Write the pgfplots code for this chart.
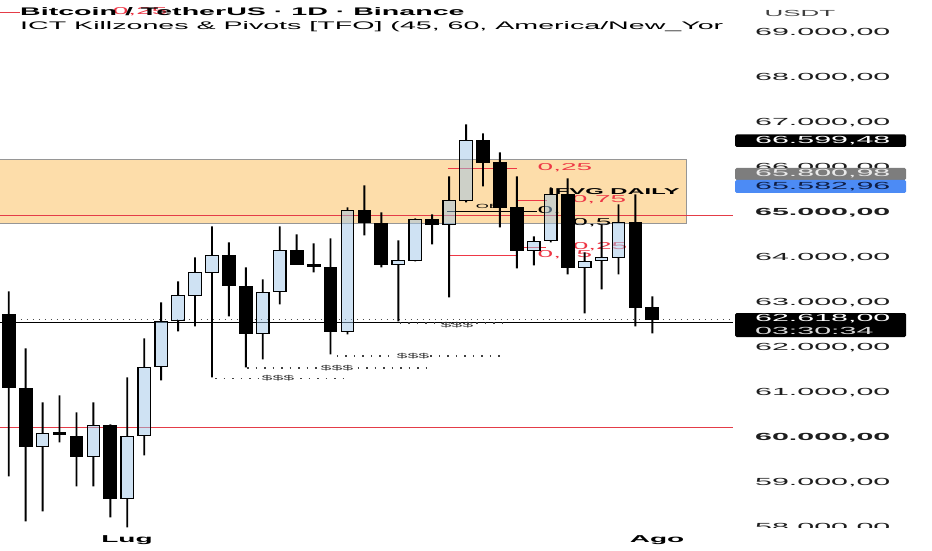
\documentclass[border=0pt]{standalone}
\usepackage{pgfplots}
\pgfplotsset{compat=1.18}
\usepackage{pgfplotstable}
\usepackage{fontspec}
\setmainfont{Liberation Sans}
\newfontfamily\tvt[FakeStretch=2.6]{Liberation Sans}
\newfontfamily\tv[FakeStretch=2.8]{Liberation Sans}
\newfontfamily\tvp[FakeStretch=2.95]{Liberation Sans}

\definecolor{zone}{RGB}{253,221,170}
\definecolor{zoneedge}{RGB}{150,150,150}
\definecolor{bull}{RGB}{159,197,231}
\definecolor{pivred}{RGB}{228,60,72}
\definecolor{fibred}{RGB}{238,55,70}
\definecolor{ticktxt}{RGB}{30,30,30}
\definecolor{boxgray}{RGB}{125,125,125}
\definecolor{boxblue}{RGB}{76,139,245}

\pgfplotstableread{
x O H L C
1 62733 63245 59134 61111
2 61089 61978 58134 59800
3 59800 60778 58356 60089
4 60100 60934 59889 60060
5 60022 60556 58911 59578
6 59578 60778 58911 60267
7 60267 60290 58222 58644
8 58644 61333 58000 60022
9 60044 62200 59600 61556
10 61578 63000 61267 62578
11 62600 63467 62356 63156
12 63156 64000 62467 63667
13 63667 64689 61333 64044
14 64044 64333 62689 63378
15 63356 63778 61556 62311
16 62311 63511 61733 63222
17 63244 64689 62956 64156
18 64156 64511 63830 63844
19 63830 64311 63667 63790
20 63778 64422 61844 62356
21 62356 65111 62289 65044
22 65044 65600 64489 64778
23 64756 65000 63778 63844
24 63844 64378 62578 63933
25 63933 64867 63911 64844
26 64844 64956 64289 64733
27 64733 65800 63111 65267
28 65267 66956 65222 66599
29 66599 66756 65578 66111
30 66111 66333 64667 65111
31 65111 65800 63756 64156
32 64156 64467 63822 64356
33 64378 65556 64333 65400
34 65400 65756 63622 63778
35 63778 64111 62756 63911
36 63933 64733 63289 63990
37 64000 65178 63622 64778
38 64778 65400 62467 62889
39 62889 63133 62311 62618
}\candles

\begin{document}
\begin{tikzpicture}[x=1pt,y=1pt]
\useasboundingbox (0,0) rectangle (932,550);
\pgfplotsset{chart/.style={at={(0,0)}, anchor=south west, scale only axis,
  width=733pt, height=550pt, xmin=0.486, xmax=43.76, ymin=57496, ymax=69718, clip=false}}
\begin{axis}[chart, axis line style={draw=none}, xtick=\empty,
  ytick={58000,59000,60000,61000,62000,63000,64000,65000,66000,67000,68000,69000},
  yticklabels={{58.000,00},{59.000,00},{\bfseries 60.000,00},{61.000,00},{62.000,00},{63.000,00},{64.000,00},{\bfseries 65.000,00},{66.000,00},{67.000,00},{68.000,00},{69.000,00}},
  yticklabel pos=right, major tick length=0pt, scaled y ticks=false,
  yticklabel style={anchor=west, inner sep=0pt, xshift=22pt, font=\tvp\fontsize{10.3}{12}\selectfont, text=ticktxt}]
% zone
\addplot[fill=zone, draw=zoneedge, line width=0.8pt] coordinates {(-0.5,64762) (40.98,64762) (40.98,66184) (-0.5,66184)} -- cycle;
% pivot lines
\addplot[pivred, line width=1pt] coordinates {(0.3,64920) (43.76,64920)};
\addplot[pivred, line width=1pt] coordinates {(0.3,60210) (43.76,60210)};
\addplot[pivred, line width=1pt] coordinates {(0.3,69451) (1.67,69451)};
\node[text=fibred] at (axis cs:8.76,69451) {\tv\fontsize{10}{12}\selectfont 0,25};
% price lines
\addplot[black, line width=1pt] coordinates {(0.3,62562) (43.76,62562)};
\addplot[black!70, line width=1.2pt, dash pattern=on 1.6pt off 4.4pt] coordinates {(0.3,62618) (43.76,62618)};
% liquidity lines
\addplot[black!75, line width=1.2pt, dash pattern=on 1.5pt off 7pt] coordinates {(13.18,61310) (20.73,61310)};
\addplot[black!75, line width=1.2pt, dash pattern=on 1.5pt off 7pt] coordinates {(15.07,61540) (25.87,61540)};
\addplot[black!75, line width=1.2pt, dash pattern=on 1.5pt off 7pt] coordinates {(20.38,61807) (30.0,61807)};
\addplot[black!75, line width=1.2pt, dash pattern=on 1.5pt off 7pt] coordinates {(24.1,62541) (30.6,62541)};
\node[fill=white, inner sep=1pt, text=black!80] at (axis cs:16.9,61310) {\tv\fontsize{7}{8}\selectfont \$\$\$};
\node[fill=white, inner sep=1pt, text=black!80] at (axis cs:20.38,61540) {\tv\fontsize{7}{8}\selectfont \$\$\$};
\node[fill=white, inner sep=1pt, text=black!80] at (axis cs:24.87,61807) {\tv\fontsize{7}{8}\selectfont \$\$\$};
\node[inner sep=1pt, text=black!80] at (axis cs:27.46,62500) {\tv\fontsize{7}{8}\selectfont \$\$\$};
% fib levels
\addplot[fibred, line width=1pt] coordinates {(26.93,65984) (31.0,65984)};
\addplot[fibred, line width=1pt] coordinates {(31.0,65273) (32.78,65273)};
\addplot[black, line width=1pt] coordinates {(26.87,65029) (32.19,65029)};
\addplot[fibred, line width=1pt] coordinates {(31.18,64229) (32.72,64229)};
\addplot[fibred, line width=1pt] coordinates {(27.05,64051) (31.0,64051)};
\node[text=fibred] at (axis cs:33.84,65984) {\tv\fontsize{10}{12}\selectfont 0,25};
\node[text=fibred] at (axis cs:35.85,65273) {\tv\fontsize{10}{12}\selectfont 0,75};
\node[text=black] at (axis cs:33.37,65029) {\tv\fontsize{10}{12}\selectfont 0,5};
\node[text=black] at (axis cs:35.43,64762) {\tv\fontsize{10}{12}\selectfont 0,5};
\node[text=fibred] at (axis cs:35.91,64229) {\tv\fontsize{10}{12}\selectfont 0,25};
\node[text=fibred] at (axis cs:33.84,64051) {\tv\fontsize{10}{12}\selectfont 0,75};
\node[anchor=west, inner sep=0pt] at (axis cs:32.84,65451) {\tv\bfseries\fontsize{8.5}{10}\selectfont IFVG DAILY};
\node[inner sep=0pt] at (axis cs:29.29,65140) {\tv\fontsize{6}{7}\selectfont OB};
\end{axis}

% wicks: low -> body (black), body span (empty), body -> high (black)
\begin{axis}[chart, hide axis, ybar stacked, bar width=1.9pt]
\addplot[draw=none, fill=none] table[x=x, y=L] {\candles};
\addplot[draw=none, fill=black] table[x=x, y expr={min(\thisrow{O},\thisrow{C})-\thisrow{L}}] {\candles};
\addplot[draw=none, fill=none] table[x=x, y expr={abs(\thisrow{C}-\thisrow{O})}] {\candles};
\addplot[draw=none, fill=black] table[x=x, y expr={\thisrow{H}-max(\thisrow{O},\thisrow{C})}] {\candles};
\end{axis}

% bodies
\begin{axis}[chart, hide axis, ybar stacked, bar width=12.5pt]
\addplot[draw=none, fill=none] table[x=x, y expr={min(\thisrow{O},\thisrow{C})}] {\candles};
\addplot[fill=bull, fill opacity=0.5, draw=black, line width=1.3pt] table[x=x, y expr={max(\thisrow{C}-\thisrow{O},0)}] {\candles};
\addplot[fill=black, draw=black, line width=1.3pt] table[x=x, y expr={max(\thisrow{O}-\thisrow{C},0)}] {\candles};
\end{axis}

% price scale boxes
\fill[black, rounded corners=1.5pt] (735,403) rectangle (906,415.5);
\node[anchor=west, inner sep=0pt, text=white] at (755,409) {\tvp\fontsize{10.3}{12}\selectfont 66.599,48};
\fill[boxgray, rounded corners=1.5pt] (735,370) rectangle (906,382);
\node[anchor=west, inner sep=0pt, text=white!92!black] at (755,376) {\tvp\fontsize{10.3}{12}\selectfont 65.800,98};
\fill[boxblue, rounded corners=1.5pt] (735,357) rectangle (906,370);
\node[anchor=west, inner sep=0pt, text={rgb,255:red,15;green,30;blue,70}] at (755,363.5) {\tvp\fontsize{10.3}{12}\selectfont 65.582,96};
\fill[black, rounded corners=1.5pt] (735,213) rectangle (906,237);
\node[anchor=west, inner sep=0pt, text=white] at (755,231) {\tvp\fontsize{10.3}{12}\selectfont 62.618,00};
\node[anchor=west, inner sep=0pt, text=white!85!black] at (755,219.5) {\tvp\fontsize{10.3}{12}\selectfont 03:30:34};
\fill[white] (733,0) rectangle (932,22);
\node[text=black!75] at (800,537) {\tvp\fontsize{8.8}{10}\selectfont USDT};
% time axis
\node at (127,10) {\tv\bfseries\fontsize{10}{12}\selectfont Lug};
\node at (657,10) {\tv\bfseries\fontsize{10}{12}\selectfont Ago};
% title
\node[anchor=base west, inner sep=0pt] at (20,534) {\tvt\bfseries\fontsize{11}{13}\selectfont Bitcoin / TetherUS · 1D · Binance};
\node[anchor=base west, inner sep=0pt] at (20,520) {\tvt\fontsize{11}{13}\selectfont ICT Killzones \& Pivots [TFO] (45, 60, America/New\_Yor};
\end{tikzpicture}
\end{document}
